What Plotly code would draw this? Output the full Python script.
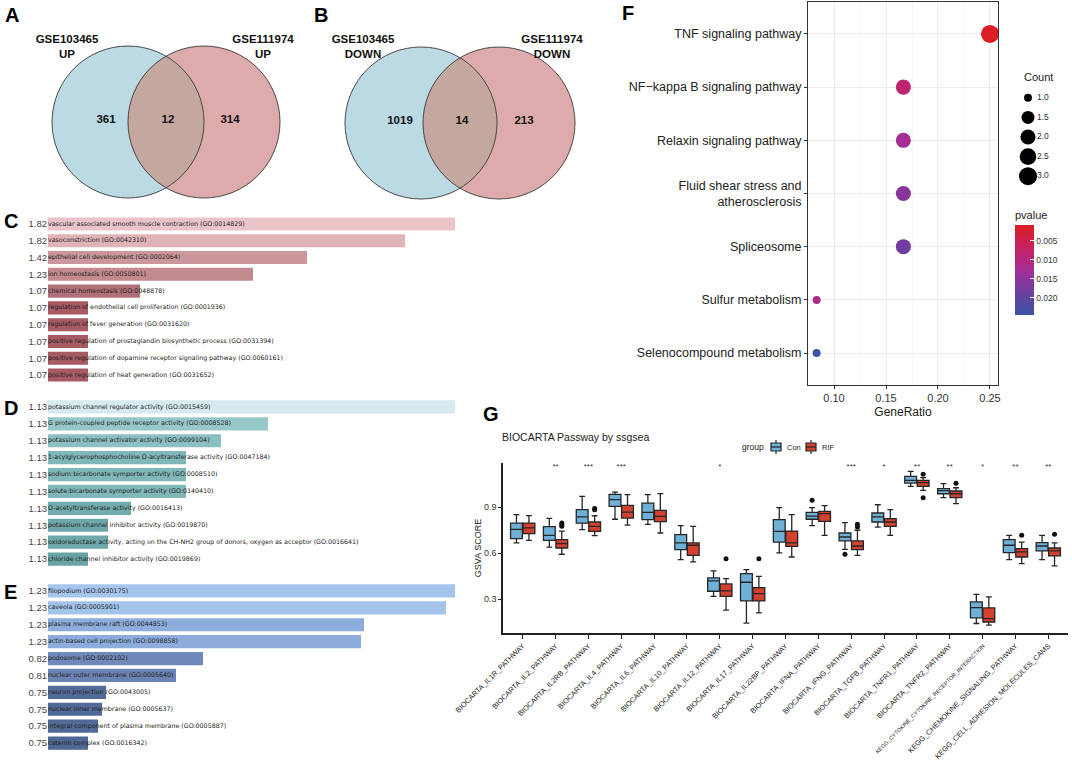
import numpy as np
import plotly.graph_objects as go

W, H = 1072, 763
FONT = "Liberation Sans, Arial, sans-serif"

# ---------------- data ----------------
venn_up_names = ["GSE103465<br>UP", "GSE111974<br>UP"]
venn_up_counts = [361, 12, 314]
venn_down_names = ["GSE103465<br>DOWN", "GSE111974<br>DOWN"]
venn_down_counts = [1019, 14, 213]

bp_terms = ["vascular associated smooth muscle contraction (GO:0014829)",
            "vasoconstriction (GO:0042310)",
            "epithelial cell development (GO:0002064)",
            "ion homeostasis (GO:0050801)",
            "chemical homeostasis (GO:0048878)",
            "regulation of endothelial cell proliferation (GO:0001936)",
            "regulation of fever generation (GO:0031620)",
            "positive regulation of prostaglandin biosynthetic process (GO:0031394)",
            "positive regulation of dopamine receptor signaling pathway (GO:0060161)",
            "positive regulation of heat generation (GO:0031652)"]
bp_labels = ["1.82", "1.82", "1.42", "1.23", "1.07", "1.07", "1.07", "1.07", "1.07", "1.07"]
bp_scores = [40.7, 35.7, 25.9, 20.5, 9.2, 4.0, 4.0, 4.0, 4.0, 4.0]

mf_terms = ["potassium channel regulator activity (GO:0015459)",
            "G protein-coupled peptide receptor activity (GO:0008528)",
            "potassium channel activator activity (GO:0099104)",
            "1-acylglycerophosphocholine O-acyltransferase activity (GO:0047184)",
            "sodium:bicarbonate symporter activity (GO:0008510)",
            "solute:bicarbonate symporter activity (GO:0140410)",
            "O-acetyltransferase activity (GO:0016413)",
            "potassium channel inhibitor activity (GO:0019870)",
            "oxidoreductase activity, acting on the CH-NH2 group of donors, oxygen as acceptor (GO:0016641)",
            "chloride channel inhibitor activity (GO:0019869)"]
mf_labels = ["1.13"] * 10
mf_scores = [40.7, 22.0, 17.3, 13.8, 13.8, 13.8, 8.3, 6.0, 6.0, 4.0]

cc_terms = ["filopodium (GO:0030175)",
            "caveola (GO:0005901)",
            "plasma membrane raft (GO:0044853)",
            "actin-based cell projection (GO:0098858)",
            "podosome (GO:0002102)",
            "nuclear outer membrane (GO:0005640)",
            "neuron projection (GO:0043005)",
            "nuclear inner membrane (GO:0005637)",
            "integral component of plasma membrane (GO:0005887)",
            "catenin complex (GO:0016342)"]
cc_labels = ["1.23", "1.23", "1.23", "1.23", "0.82", "0.81", "0.75", "0.75", "0.75", "0.75"]
cc_scores = [40.7, 39.8, 31.6, 31.3, 15.5, 12.8, 5.8, 5.4, 5.0, 4.0]

kegg_terms = ["TNF signaling pathway", "NF\u2212kappa B signaling pathway", "Relaxin signaling pathway",
              "Fluid shear stress and<br>atherosclerosis", "Spliceosome", "Sulfur metabolism",
              "Selenocompound metabolism"]
kegg_ratio = [0.25, 0.1667, 0.1667, 0.1667, 0.1667, 0.0833, 0.0833]
kegg_count = [3, 2, 2, 2, 2, 1, 1]
kegg_p = [0.0009, 0.0085, 0.0125, 0.0155, 0.0180, 0.0115, 0.0246]
count_levels = [1.0, 1.5, 2.0, 2.5, 3.0]
p_ticks = [0.005, 0.010, 0.015, 0.020]

pathways = ["BIOCARTA_IL1R_PATHWAY", "BIOCARTA_IL2_PATHWAY", "BIOCARTA_IL2RB_PATHWAY", "BIOCARTA_IL4_PATHWAY",
            "BIOCARTA_IL6_PATHWAY", "BIOCARTA_IL10_PATHWAY", "BIOCARTA_IL12_PATHWAY", "BIOCARTA_IL17_PATHWAY",
            "BIOCARTA_IL22BP_PATHWAY", "BIOCARTA_IFNA_PATHWAY", "BIOCARTA_IFNG_PATHWAY", "BIOCARTA_TGFB_PATHWAY",
            "BIOCARTA_TNFR1_PATHWAY", "BIOCARTA_TNFR2_PATHWAY", "KEGG_CYTOKINE_CYTOKINE_RECEPTOR_INTERACTION",
            "KEGG_CHEMOKINE_SIGNALING_PATHWAY", "KEGG_CELL_ADHESION_MOLECULES_CAMS"]
groups = ["Con", "RIF"]
group_colors = ["#6FB1D6", "#D2402F"]
sig = ["", "**", "***", "***", "", "", "*", "", "", "", "***", "*", "**", "**", "*", "**", "**"]

con_lo = [0.668, 0.640, 0.754, 0.822, 0.789, 0.558, 0.318, 0.142, 0.602, 0.780, 0.625, 0.771, 1.037, 0.963, 0.140, 0.558, 0.558]
con_q1 = [0.695, 0.684, 0.797, 0.906, 0.820, 0.623, 0.351, 0.288, 0.673, 0.822, 0.680, 0.804, 1.059, 0.989, 0.177, 0.604, 0.615]
con_md = [0.756, 0.717, 0.837, 0.950, 0.867, 0.667, 0.419, 0.410, 0.743, 0.843, 0.706, 0.837, 1.076, 1.009, 0.244, 0.652, 0.647]
con_q3 = [0.797, 0.774, 0.885, 0.985, 0.928, 0.721, 0.438, 0.466, 0.819, 0.867, 0.732, 0.863, 1.103, 1.022, 0.281, 0.689, 0.669]
con_hi = [0.852, 0.828, 0.972, 1.000, 0.983, 0.780, 0.484, 0.493, 0.898, 0.898, 0.800, 0.917, 1.135, 1.055, 0.331, 0.717, 0.717]

rif_lo = [0.684, 0.593, 0.715, 0.784, 0.732, 0.543, 0.227, 0.209, 0.575, 0.717, 0.586, 0.717, 1.011, 0.924, 0.129, 0.532, 0.517]
rif_q1 = [0.728, 0.634, 0.743, 0.830, 0.806, 0.586, 0.318, 0.288, 0.645, 0.808, 0.623, 0.776, 1.037, 0.963, 0.150, 0.575, 0.582]
rif_md = [0.765, 0.663, 0.776, 0.869, 0.841, 0.652, 0.353, 0.336, 0.667, 0.859, 0.647, 0.804, 1.061, 0.989, 0.172, 0.608, 0.615]
rif_q3 = [0.797, 0.689, 0.804, 0.913, 0.880, 0.667, 0.399, 0.375, 0.745, 0.874, 0.680, 0.826, 1.076, 1.007, 0.242, 0.630, 0.634]
rif_hi = [0.846, 0.745, 0.845, 0.983, 0.990, 0.776, 0.434, 0.449, 0.852, 0.911, 0.750, 0.885, 1.094, 1.028, 0.314, 0.673, 0.667]

con_out_idx = [9, 10]
con_out_val = [0.946, 0.593]
rif_out_idx = [1, 1, 1, 2, 2, 6, 7, 10, 10, 12, 12, 13, 15, 16]
rif_out_val = [0.776, 0.787, 0.797, 0.885, 0.893, 0.564, 0.564, 0.771, 0.789, 1.116, 0.963, 1.057, 0.717, 0.724]

# ---------------- helpers ----------------
def px_x(p):
    return p / W


def px_y(p):
    return 1 - p / H


fig = go.Figure()

# ---------- C / D / E bar panels ----------
bar_panels = [
    ("x", "y", bp_terms, bp_labels, bp_scores, (215.6, 383.4),
     [[0, '#A65A62'], [0.14, '#B07078'], [0.45, '#C2898E'], [0.6, '#CC979C'], [0.87, '#E0B4B9'], [1, '#EBC4C9']]),
    ("x2", "y2", mf_terms, mf_labels, mf_scores, (398.5, 567.5),
     [[0, '#6AA3A6'], [0.12, '#72ACAE'], [0.27, '#80B7B9'], [0.36, '#8BBFC1'], [0.49, '#97C8C9'], [1, '#D6EAF0']]),
    ("x3", "y3", cc_terms, cc_labels, cc_scores, (582.5, 751.5),
     [[0, '#4F6793'], [0.05, '#526A97'], [0.24, '#6A83B2'], [0.31, '#7089BA'], [0.75, '#8DADDC'], [1, '#A6C5EC']]),
]
for i, (xa, ya, terms, labels, scores, (ytop, ybot), cs) in enumerate(bar_panels):
    pos = list(range(len(terms)))
    fig.add_trace(go.Bar(x=scores, y=pos, orientation='h', width=0.78,
                         marker=dict(color=scores, colorscale=cs, cmin=min(scores), cmax=max(scores),
                                     line=dict(width=0)),
                         xaxis=xa, yaxis=ya, showlegend=False, hoverinfo='skip'))
    fig.add_trace(go.Scatter(x=[0] * len(terms), y=pos, mode='text', text=terms,
                             textposition='middle right', cliponaxis=False,
                             textfont=dict(family="DejaVu Sans, sans-serif", size=6.3, color='#222'),
                             xaxis=xa, yaxis=ya, showlegend=False, hoverinfo='skip'))
    sfx = "" if i == 0 else str(i + 1)
    fig.layout["xaxis" + sfx] = dict(domain=[px_x(48), px_x(455)], range=[0, max(scores)], visible=False,
                                     anchor=ya, fixedrange=True, automargin=False)
    fig.layout["yaxis" + sfx] = dict(domain=[px_y(ybot), px_y(ytop)], range=[len(terms) - 0.5, -0.5],
                                     tickvals=pos, ticktext=labels, ticks='', showgrid=False, zeroline=False,
                                     showline=False, tickfont=dict(family=FONT, size=9.5, color='#444'),
                                     anchor=xa, fixedrange=True, automargin=False)

# ---------- F dot plot ----------
def dot_size(c):
    return 8 + 10 * np.sqrt((np.asarray(c, dtype=float) - 1) / 2.0)


kpos = list(range(len(kegg_terms)))
fig.add_trace(go.Scatter(
    x=kegg_ratio, y=kpos, mode='markers', xaxis='x4', yaxis='y4', showlegend=False,
    marker=dict(size=dot_size(kegg_count), color=[-p for p in kegg_p], cmin=-0.0246, cmax=-0.0009,
                colorscale=[[0, '#3953A5'], [0.25, '#6A3F9F'], [0.5, '#A22F97'], [0.7, '#C2236C'], [1, '#DD1E25']],
                line=dict(width=0), opacity=1,
                colorbar=dict(x=px_x(1015), xanchor='left', y=px_y(208), yanchor='top',
                              thickness=19, thicknessmode='pixels', len=107, lenmode='pixels',
                              xpad=0, ypad=0, outlinewidth=0,
                              tickvals=[-t for t in p_ticks], ticktext=["%.3f" % t for t in p_ticks],
                              ticks='inside', ticklen=4, tickcolor='white', tickwidth=1,
                              tickfont=dict(family=FONT, size=8.5, color='#333'),
                              title=dict(text='pvalue', side='top', font=dict(family=FONT, size=11, color='#222')))),
    hoverinfo='skip'))
fig.layout.xaxis4 = dict(domain=[px_x(808), px_x(998)], range=[0.075, 0.2577], anchor='y4',
                         tickvals=[0.10, 0.15, 0.20, 0.25], ticktext=['0.10', '0.15', '0.20', '0.25'],
                         showgrid=True, gridcolor='#EBEBEB', gridwidth=1,
                         minor=dict(tickvals=[0.125, 0.175, 0.225], showgrid=True, gridcolor='#F5F5F5', gridwidth=0.6,
                                    ticks=''),
                         showline=True, mirror=True, linecolor='#333', linewidth=1, zeroline=False,
                         ticks='outside', ticklen=3, tickcolor='#333', automargin=False,
                         tickfont=dict(family=FONT, size=11, color='#333'),
                         title=dict(text='GeneRatio', font=dict(family=FONT, size=12, color='#222'), standoff=4))
fig.layout.yaxis4 = dict(domain=[px_y(385), px_y(2)], range=[len(kegg_terms) - 0.4, -0.6], anchor='x4',
                         tickvals=kpos, ticktext=kegg_terms, showgrid=True, gridcolor='#EBEBEB', gridwidth=1,
                         showline=True, mirror=True, linecolor='#333', linewidth=1, zeroline=False,
                         ticks='outside', ticklen=3, tickcolor='#333', automargin=False,
                         tickfont=dict(family=FONT, size=12.5, color='#222'))

# count legend
fig.add_trace(go.Scatter(x=[1] * len(count_levels), y=count_levels, mode='markers', xaxis='x5', yaxis='y5',
                         marker=dict(size=dot_size(count_levels), color='black', opacity=1, line=dict(width=0)),
                         showlegend=False, hoverinfo='skip'))
fig.add_trace(go.Scatter(x=[1.9] * len(count_levels), y=count_levels, mode='text',
                         text=["%.1f" % c for c in count_levels], textposition='middle right',
                         textfont=dict(family=FONT, size=8.5, color='#333'), xaxis='x5', yaxis='y5',
                         showlegend=False, hoverinfo='skip', cliponaxis=False))
fig.layout.xaxis5 = dict(domain=[px_x(1018), px_x(1068)], range=[0, 5], visible=False, anchor='y5', automargin=False)
fig.layout.yaxis5 = dict(domain=[px_y(186), px_y(88)], range=[3.25, 0.75], visible=False, anchor='x5', automargin=False)

# ---------- G boxplot ----------
gpos = np.arange(len(pathways))
box_line = dict(color='#262626', width=1.3)
fig.add_trace(go.Box(x=gpos - 0.19, q1=con_q1, median=con_md, q3=con_q3, lowerfence=con_lo, upperfence=con_hi,
                     width=0.36, fillcolor=group_colors[0], line=box_line, name=groups[0], xaxis='x6', yaxis='y6',
                     hoverinfo='skip', showlegend=False))
fig.add_trace(go.Box(x=gpos + 0.19, q1=rif_q1, median=rif_md, q3=rif_q3, lowerfence=rif_lo, upperfence=rif_hi,
                     width=0.36, fillcolor=group_colors[1], line=box_line, name=groups[1], xaxis='x6', yaxis='y6',
                     hoverinfo='skip', showlegend=False))
fig.add_trace(go.Scatter(x=np.array(con_out_idx) - 0.19, y=con_out_val, mode='markers',
                         marker=dict(size=5, color='#111'), xaxis='x6', yaxis='y6', showlegend=False,
                         hoverinfo='skip'))
fig.add_trace(go.Scatter(x=np.array(rif_out_idx) + 0.19, y=rif_out_val, mode='markers',
                         marker=dict(size=5, color='#111'), xaxis='x6', yaxis='y6', showlegend=False,
                         hoverinfo='skip'))
fig.add_trace(go.Scatter(x=gpos, y=[1.165] * len(pathways), mode='text', text=sig,
                         textfont=dict(family=FONT, size=8, color='#333'), xaxis='x6', yaxis='y6',
                         showlegend=False, hoverinfo='skip', cliponaxis=False))
gticks = [("<span style='font-size:5.5px'>%s</span>" % p) if p.startswith("KEGG_CYTOKINE") else p for p in pathways]
fig.layout.xaxis6 = dict(domain=[px_x(503), px_x(1068)], range=[-0.6, len(pathways) - 0.4], anchor='y6',
                         tickvals=list(gpos), ticktext=gticks, tickangle=-45, automargin=False,
                         tickfont=dict(family=FONT, size=7.3, color='#222'),
                         showline=True, linecolor='#222', linewidth=1.5, showgrid=False, zeroline=False,
                         ticks='outside', ticklen=4, tickcolor='#222', tickwidth=1)
fig.layout.yaxis6 = dict(domain=[px_y(633), px_y(463)], range=[0.078, 1.19], anchor='x6',
                         tickvals=[0.3, 0.6, 0.9], ticktext=['0.3', '0.6', '0.9'], automargin=False,
                         tickfont=dict(family=FONT, size=9, color='#333'),
                         showline=True, linecolor='#222', linewidth=1.5, showgrid=False, zeroline=False,
                         ticks='outside', ticklen=3, tickcolor='#222', tickwidth=1,
                         title=dict(text='GSVA SCORE', font=dict(family=FONT, size=9, color='#222'), standoff=1))

# ---------- Venn (pixel overlay axis) ----------
venns = [
    (128, 204, 122, 76, venn_up_names, venn_up_counts, (-61, 59)),
    (421, 499, 123, 76, venn_down_names, venn_down_counts, (-58, 53)),
]
shapes = []
for cxl, cxr, cy, r, names, counts, (nl, nr) in venns:
    shapes.append(dict(type='circle', xref='x7', yref='y7', x0=cxl - r, x1=cxl + r, y0=cy - r, y1=cy + r,
                       fillcolor='#BBDAE3', line=dict(width=0), layer='below'))
    shapes.append(dict(type='circle', xref='x7', yref='y7', x0=cxr - r, x1=cxr + r, y0=cy - r, y1=cy + r,
                       fillcolor='#DDABAB', line=dict(width=0), layer='below'))
    d = cxr - cxl
    th = np.arccos(d / 2.0 / r)
    t1 = np.linspace(-th, th, 60)
    t2 = np.linspace(np.pi - th, np.pi + th, 60)
    pts = [(cxl + r * np.cos(t), cy + r * np.sin(t)) for t in t1] + \
          [(cxr + r * np.cos(t), cy + r * np.sin(t)) for t in t2]
    path = "M " + " L ".join("%.2f,%.2f" % p for p in pts) + " Z"
    shapes.append(dict(type='path', xref='x7', yref='y7', path=path, fillcolor='#C4A8A0',
                       line=dict(width=0), layer='below'))
    for cx in (cxl, cxr):
        shapes.append(dict(type='circle', xref='x7', yref='y7', x0=cx - r, x1=cx + r, y0=cy - r, y1=cy + r,
                           fillcolor='rgba(0,0,0,0)', line=dict(width=0.9, color='#3a3a3a'), layer='below'))
    mid = (cxl + cxr) / 2.0 + 2
    fig.add_trace(go.Scatter(x=[mid - 62, mid, mid + 62], y=[cy - 2] * 3, mode='text',
                             text=["<b>%d</b>" % c for c in counts],
                             textfont=dict(family=FONT, size=11.5, color='#111'), xaxis='x7', yaxis='y7',
                             showlegend=False, hoverinfo='skip', cliponaxis=False))
    fig.add_trace(go.Scatter(x=[cxl + nl, cxr + nr], y=[48, 48], mode='text',
                             text=["<b>%s</b>" % n for n in names],
                             textfont=dict(family=FONT, size=11.5, color='#111'), xaxis='x7', yaxis='y7',
                             showlegend=False, hoverinfo='skip', cliponaxis=False))
fig.layout.xaxis7 = dict(domain=[0, 1], range=[0, W], visible=False, anchor='y7', fixedrange=True, automargin=False)
fig.layout.yaxis7 = dict(domain=[0, 1], range=[H, 0], visible=False, anchor='x7', fixedrange=True, automargin=False)

# ---------- G legend (key glyphs drawn as layout shapes) ----------
ann = []
ann.append(dict(text="group", x=px_x(740), y=px_y(447), xref='paper', yref='paper', xanchor='left',
                yanchor='middle', showarrow=False, font=dict(family=FONT, size=8.5, color='#222')))
for k, (gname, gcol) in enumerate(zip(groups, group_colors)):
    kx = 771 + 35 * k
    shapes.append(dict(type='line', xref='x7', yref='y7', x0=kx + 5, x1=kx + 5, y0=440, y1=454,
                       line=dict(color='#262626', width=1.2)))
    shapes.append(dict(type='rect', xref='x7', yref='y7', x0=kx, x1=kx + 10, y0=443, y1=451,
                       fillcolor=gcol, line=dict(color='#262626', width=1.2)))
    shapes.append(dict(type='line', xref='x7', yref='y7', x0=kx, x1=kx + 10, y0=447, y1=447,
                       line=dict(color='#262626', width=1.2)))
    ann.append(dict(text=gname, x=px_x(kx + 14), y=px_y(447), xref='paper', yref='paper', xanchor='left',
                    yanchor='middle', showarrow=False, font=dict(family=FONT, size=7.5, color='#222')))

# ---------- annotations ----------
for letter, x, y in [("A", 3, 15), ("B", 312, 15), ("C", 2, 221), ("D", 2, 408), ("E", 2, 592),
                     ("F", 620, 13), ("G", 481, 414)]:
    ann.append(dict(text="<b>%s</b>" % letter, x=px_x(x), y=px_y(y), xref='paper', yref='paper',
                    xanchor='left', yanchor='middle', showarrow=False,
                    font=dict(family=FONT, size=20, color='#000')))
ann.append(dict(text="Count", x=px_x(1022), y=px_y(77), xref='paper', yref='paper', xanchor='left',
                yanchor='middle', showarrow=False, font=dict(family=FONT, size=11, color='#222')))
ann.append(dict(text="BIOCARTA Passway by ssgsea", x=px_x(500), y=px_y(437), xref='paper', yref='paper',
                xanchor='left', yanchor='middle', showarrow=False, font=dict(family=FONT, size=10.5, color='#222')))

fig.update_layout(
    template='none',
    width=W, height=H, margin=dict(l=0, r=0, t=0, b=0, pad=0, autoexpand=False),
    paper_bgcolor='white', plot_bgcolor='rgba(0,0,0,0)',
    font=dict(family=FONT),
    shapes=shapes, annotations=ann,
    boxmode='overlay', showlegend=False,
)

fig.write_html("out.html", config={'displayModeBar': False},
               post_script="document.body.style.margin='0';document.body.style.overflow='hidden';")
